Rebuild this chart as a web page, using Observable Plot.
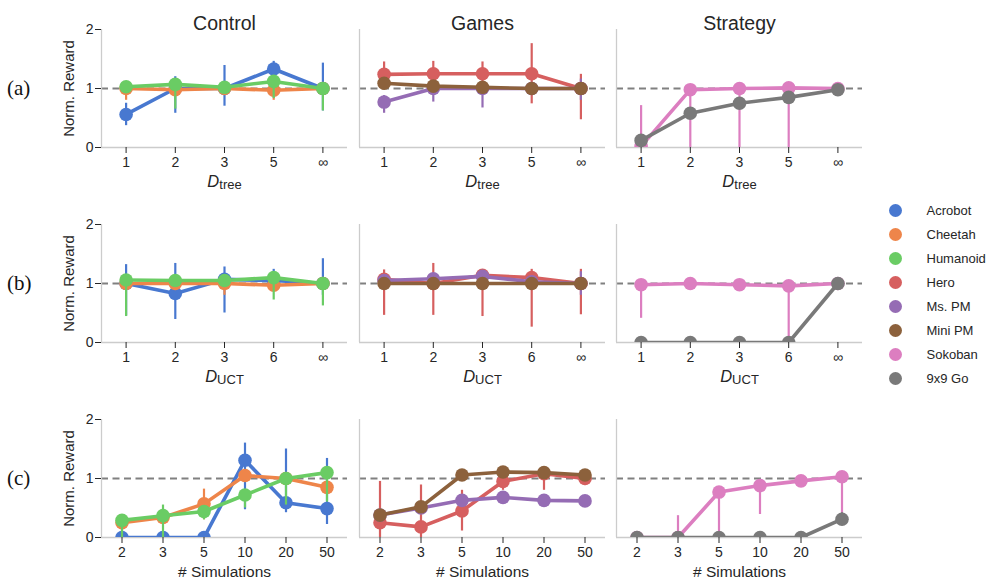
<!DOCTYPE html>
<html><head><meta charset="utf-8">
<script src="https://cdn.jsdelivr.net/npm/d3@7"></script>
<script src="https://cdn.jsdelivr.net/npm/@observablehq/plot@0.6"></script>
<style>
body{margin:0;background:#fff;}
#wrap{position:relative;width:987px;height:579px;overflow:hidden;font-family:"Liberation Sans",Arial,sans-serif;background:#fff;}
#wrap svg{position:absolute;}
.rowlab{position:absolute;font-family:"Liberation Serif","Times New Roman",serif;font-size:21px;color:#111;line-height:24px;}
</style></head><body><div id="wrap"></div>
<script>
// ---------- data ----------
const groups = ["Control", "Games", "Strategy"];
const series = ["Acrobot", "Cheetah", "Humanoid", "Hero", "Ms. PM", "Mini PM", "Sokoban", "9x9 Go"];
const seriesGroup = ["Control", "Control", "Control", "Games", "Games", "Games", "Strategy", "Strategy"];
const colors = ["#4878d0", "#ee854a", "#6acc64", "#d65f5f", "#956cb4", "#8c613c", "#dc7ec0", "#797979"];
const rowLabels = ["(a)", "(b)", "(c)"];
const ticksTree = ["1", "2", "3", "5", "∞"];
const ticksUct = ["1", "2", "3", "6", "∞"];
const ticksSims = ["2", "3", "5", "10", "20", "50"];
const yTicks = [0, 1, 2];

// row (a): D_tree  (rows = series in order above)
const treeMean = [
  [0.56, 1.00, 1.00, 1.33, 1.00],
  [1.00, 0.98, 1.00, 0.97, 1.00],
  [1.03, 1.07, 1.02, 1.12, 1.00],
  [1.24, 1.25, 1.25, 1.25, 1.00],
  [0.77, 1.00, 1.00, 1.00, 1.00],
  [1.09, 1.04, 1.02, 1.00, 1.00],
  [0.02, 0.98, 1.00, 1.01, 1.00],
  [0.12, 0.58, 0.75, 0.85, 0.98]
];
const treeLo = [
  [0.37, 0.58, 0.70, 1.20, 0.62],
  [0.80, 0.90, 0.95, 0.80, 0.95],
  [0.95, 0.65, 0.95, 0.83, 0.62],
  [1.02, 1.05, 1.05, 0.74, 0.47],
  [0.58, 0.77, 0.67, 0.95, 0.80],
  [1.00, 1.00, 1.00, 0.98, 1.00],
  [0.00, 0.00, 0.00, 0.00, 1.00],
  [0.10, 0.56, 0.73, 0.83, 0.97]
];
const treeHi = [
  [0.75, 1.20, 1.39, 1.46, 1.43],
  [1.02, 1.05, 1.05, 1.05, 1.02],
  [1.08, 1.15, 1.08, 1.16, 1.10],
  [1.45, 1.46, 1.45, 1.76, 1.24],
  [0.88, 1.05, 1.05, 1.05, 1.16],
  [1.15, 1.08, 1.05, 1.02, 1.00],
  [0.71, 1.00, 1.02, 1.02, 1.00],
  [0.14, 0.60, 0.77, 0.87, 0.99]
];
// row (b): D_UCT
const uctMean = [
  [1.00, 0.83, 1.07, 1.05, 1.00],
  [1.00, 1.00, 1.00, 0.97, 1.00],
  [1.06, 1.05, 1.05, 1.10, 1.00],
  [1.07, 1.00, 1.14, 1.10, 1.00],
  [1.05, 1.08, 1.12, 1.03, 1.00],
  [1.00, 1.00, 1.00, 1.00, 1.00],
  [0.98, 1.00, 0.98, 0.96, 1.00],
  [0.00, 0.00, 0.00, 0.00, 1.00]
];
const uctLo = [
  [0.45, 0.39, 0.50, 0.90, 0.80],
  [0.95, 0.95, 0.80, 0.90, 0.95],
  [0.44, 1.00, 1.00, 0.72, 0.62],
  [0.46, 0.46, 0.44, 0.26, 0.47],
  [1.00, 1.00, 1.05, 1.00, 0.80],
  [0.98, 0.98, 0.98, 0.98, 1.00],
  [0.41, 0.98, 0.95, 0.00, 1.00],
  [0.00, 0.00, 0.00, 0.00, 1.00]
];
const uctHi = [
  [1.32, 1.34, 1.28, 1.24, 1.42],
  [1.05, 1.05, 1.05, 1.02, 1.02],
  [1.10, 1.10, 1.10, 1.20, 1.10],
  [1.23, 1.34, 1.20, 1.24, 1.24],
  [1.10, 1.12, 1.15, 1.05, 1.20],
  [1.02, 1.02, 1.02, 1.02, 1.00],
  [1.00, 1.02, 1.00, 0.98, 1.00],
  [0.00, 0.00, 0.00, 0.00, 1.00]
];
// row (c): # simulations
const simMean = [
  [0.00, 0.00, 0.00, 1.31, 0.59, 0.49],
  [0.25, 0.34, 0.57, 1.05, 1.00, 0.85],
  [0.29, 0.37, 0.44, 0.72, 1.00, 1.10],
  [0.25, 0.18, 0.45, 0.95, 1.08, 1.00],
  [0.38, 0.50, 0.63, 0.68, 0.63, 0.62],
  [0.38, 0.52, 1.06, 1.11, 1.10, 1.06],
  [0.00, 0.00, 0.77, 0.88, 0.96, 1.03],
  [0.00, 0.00, 0.00, 0.00, 0.00, 0.31]
];
const simLo = [
  [0.00, 0.00, 0.00, 0.47, 0.42, 0.22],
  [0.10, 0.30, 0.30, 0.95, 0.95, 0.75],
  [0.00, 0.00, 0.30, 0.50, 0.55, 0.60],
  [0.00, 0.00, 0.11, 0.80, 0.80, 0.88],
  [0.30, 0.45, 0.60, 0.65, 0.60, 0.58],
  [0.35, 0.50, 1.03, 1.08, 1.07, 1.03],
  [0.00, 0.00, 0.00, 0.39, 0.85, 0.30],
  [0.00, 0.00, 0.00, 0.00, 0.00, 0.20]
];
const simHi = [
  [0.00, 0.00, 0.10, 1.60, 1.50, 1.34],
  [0.30, 0.40, 0.82, 1.10, 1.05, 0.95],
  [0.32, 0.55, 0.50, 0.80, 1.05, 1.20],
  [0.95, 0.89, 0.80, 1.05, 1.10, 1.05],
  [0.45, 0.55, 0.67, 0.70, 0.67, 0.66],
  [0.40, 0.55, 1.09, 1.14, 1.13, 1.09],
  [0.00, 0.37, 0.80, 0.90, 1.00, 1.05],
  [0.00, 0.00, 0.00, 0.00, 0.00, 0.42]
];

// ---------- build ----------
const rowTicks = [ticksTree, ticksUct, ticksSims];
const rowMean = [treeMean, uctMean, simMean];
const rowLo = [treeLo, uctLo, simLo];
const rowHi = [treeHi, uctHi, simHi];
const xLabelSub = ["tree", "UCT", null];
const xLabelText = ["Dtree", "DUCT", "# Simulations"];

const wrap = document.getElementById("wrap");
const frameLeft = [101, 358.5, 616];
const frameTop = [29, 224, 419];
const frameW = 246, frameH = 118;
const ink = "#262626";
const NS = "http://www.w3.org/2000/svg";

function panel(r, c) {
  const ticks = rowTicks[r];
  const n = ticks.length;
  const ml = c === 0 ? 45 : 4, mr = 4, mt = r === 0 ? 30 : 4, mb = 52;
  const marks = [
    Plot.ruleY([1], {stroke: "#808080", strokeWidth: 2, strokeDasharray: "7,4.5"}),
    Plot.ruleX([-0.5], {stroke: "#cccccc", strokeWidth: 1.3}),
    Plot.ruleY([0], {stroke: "#cccccc", strokeWidth: 1.3}),
    Plot.axisX({ticks: d3.range(n), tickFormat: i => ticks[i], tickSize: 6, tickPadding: 4,
      fontSize: 14, label: xLabelText[r], labelAnchor: "center", labelArrow: "none", labelOffset: 39})
  ];
  if (c === 0) {
    marks.push(Plot.axisY({ticks: yTicks, tickFormat: d => String(d), tickSize: 6, tickPadding: 2,
      fontSize: 14, label: "Norm. Reward", labelAnchor: "center", labelArrow: "none", labelOffset: 38}));
  }
  if (r === 0) {
    marks.push(Plot.text([groups[c]], {text: d => d, frameAnchor: "top", dy: -13, fontSize: 19.5, fill: ink}));
  }
  series.forEach((s, si) => {
    if (seriesGroup[si] !== groups[c]) return;
    const data = ticks.map((t, i) => ({x: i, y: rowMean[r][si][i], lo: rowLo[r][si][i], hi: rowHi[r][si][i]}));
    marks.push(Plot.ruleX(data, {x: "x", y1: "lo", y2: "hi", stroke: colors[si], strokeWidth: 2.2, clip: true}));
    marks.push(Plot.line(data, {x: "x", y: "y", stroke: colors[si], strokeWidth: 3.6, clip: true}));
    marks.push(Plot.dot(data, {x: "x", y: "y", fill: colors[si], r: 6.8, clip: true}));
  });
  const svg = Plot.plot({
    width: frameW + ml + mr,
    height: frameH + mt + mb,
    marginLeft: ml, marginRight: mr, marginTop: mt, marginBottom: mb,
    x: {type: "linear", domain: [-0.5, n - 0.5]},
    y: {domain: [0, 2], axis: c === 0 ? undefined : null},
    style: {background: "transparent", overflow: "visible", color: ink,
      fontFamily: '"Liberation Sans", Arial, sans-serif', fontSize: "14px"},
    marks
  });
  svg.style.left = (frameLeft[c] - ml) + "px";
  svg.style.top = (frameTop[r] - mt) + "px";
  // axis labels font sizes / subscript
  const xl = svg.querySelector('[aria-label="x-axis label"] text');
  if (xl) {
    xl.setAttribute("font-size", "15.5");
    if (xLabelSub[r]) {
      xl.textContent = "";
      const a = document.createElementNS(NS, "tspan");
      a.setAttribute("font-style", "italic");
      a.setAttribute("font-size", "16.5");
      a.textContent = "D";
      const b = document.createElementNS(NS, "tspan");
      b.setAttribute("font-size", "13");
      b.setAttribute("dy", "0.22em");
      b.textContent = xLabelSub[r];
      xl.append(a, b);
    }
  }
  const yl = svg.querySelector('[aria-label="y-axis label"] text');
  if (yl) yl.setAttribute("font-size", "15");
  wrap.appendChild(svg);
}

for (let r = 0; r < 3; r++) for (let c = 0; c < 3; c++) panel(r, c);

// row labels
rowLabels.forEach((t, r) => {
  const d = document.createElement("div");
  d.className = "rowlab";
  d.textContent = t;
  d.style.left = "7px";
  d.style.top = (frameTop[r] + frameH / 2 - 12) + "px";
  wrap.appendChild(d);
});

// legend
const legend = Plot.plot({
  width: 105, height: 200, margin: 0,
  x: {type: "linear", domain: [0, 1], range: [15, 46], axis: null},
  y: {type: "point", domain: series, range: [18, 189], padding: 0, axis: null},
  color: {domain: series, range: colors},
  style: {background: "transparent", overflow: "visible", color: ink,
    fontFamily: '"Liberation Sans", Arial, sans-serif'},
  marks: [
    Plot.dot(series, {x: () => 0, y: d => d, fill: d => d, r: 6.5}),
    Plot.text(series, {x: () => 1, y: d => d, text: d => d, textAnchor: "start", fontSize: 13, fill: ink})
  ]
});
legend.style.left = "880px";
legend.style.top = "190px";
wrap.appendChild(legend);
</script></body></html>
